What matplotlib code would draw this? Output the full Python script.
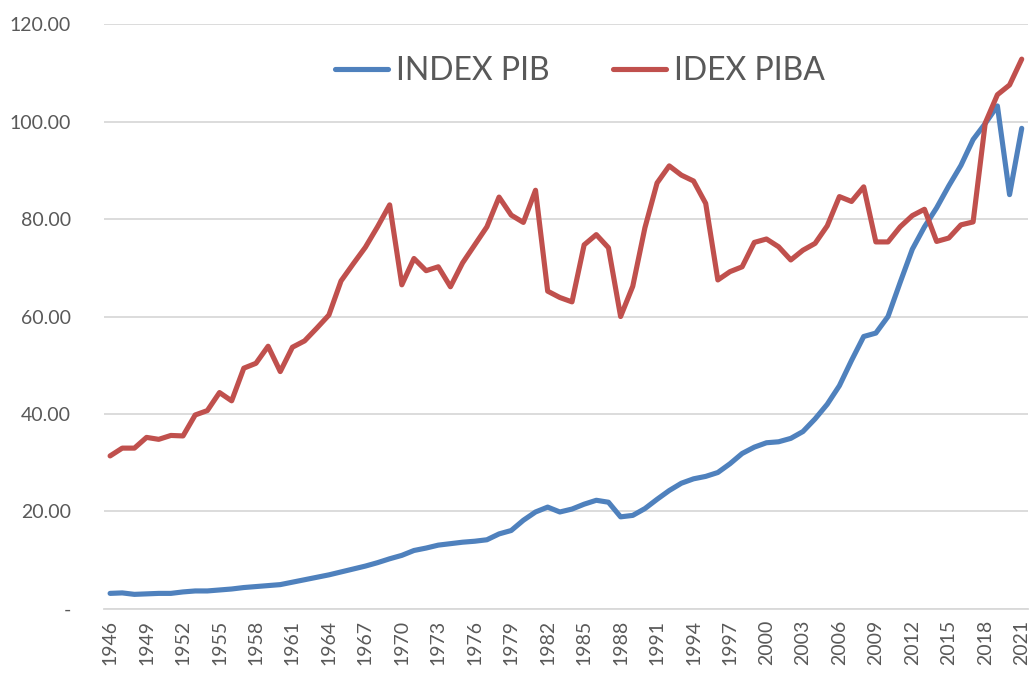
import matplotlib
matplotlib.use("Agg")
import matplotlib.pyplot as plt
from matplotlib.ticker import FuncFormatter

# years 1946..2021
years = list(range(1946, 2022))

index_pib = [
    3.2, 3.3, 3.0, 3.1, 3.2, 3.2, 3.5, 3.7, 3.7, 3.9,  # 1946-1955
    4.1, 4.4, 4.6, 4.8, 5.0, 5.5, 6.0, 6.5, 7.0, 7.6,  # 1956-1965
    8.2, 8.8, 9.5, 10.3, 11.0, 12.0, 12.5, 13.1, 13.4, 13.7,  # 1966-1975
    13.9, 14.2, 15.4, 16.1, 18.2, 19.9, 20.9, 19.9, 20.5, 21.5,  # 1976-1985
    22.3, 21.9, 18.9, 19.2, 20.6, 22.5, 24.3, 25.8, 26.7, 27.2,  # 1986-1995
    28.0, 29.8, 31.9, 33.2, 34.1, 34.3, 35.0, 36.4, 39.0, 42.0,  # 1996-2005
    45.8, 51.0, 55.9, 56.6, 60.0, 67.0, 73.8, 78.4, 82.3, 86.8,  # 2006-2015
    91.0, 96.3, 99.6, 103.2, 85.0, 98.6,  # 2016-2021
]

idex_piba = [
    31.4, 33.0, 33.0, 35.2, 34.8, 35.6, 35.5, 39.8, 40.7, 44.4,  # 1946-1955
    42.7, 49.4, 50.4, 53.9, 48.7, 53.7, 55.0, 57.6, 60.3, 67.3,  # 1956-1965
    70.8, 74.2, 78.4, 82.9, 66.5, 71.9, 69.4, 70.2, 66.1, 71.0,  # 1966-1975
    74.7, 78.4, 84.5, 80.8, 79.3, 85.9, 65.2, 63.9, 63.0, 74.7,  # 1976-1985
    76.8, 74.1, 60.0, 66.2, 78.2, 87.4, 90.9, 89.0, 87.8, 83.2,  # 1986-1995
    67.5, 69.2, 70.2, 75.2, 75.9, 74.3, 71.6, 73.6, 75.0, 78.6,  # 1996-2005
    84.6, 83.6, 86.6, 75.3, 75.3, 78.4, 80.7, 82.0, 75.4, 76.1,  # 2006-2015
    78.8, 79.4, 99.7, 105.5, 107.5, 112.8,  # 2016-2021
]

plt.rcParams["font.family"] = ["Lato", "DejaVu Sans"]

fig = plt.figure(figsize=(10.34, 6.75), dpi=100)
ax = fig.add_axes([0.1006, 0.0978, 0.8934, 0.8666])

x = list(range(len(years)))
ax.plot(x, index_pib, color="#4F81BD", lw=3.7, solid_capstyle="round",
        solid_joinstyle="round", label="INDEX PIB")
ax.plot(x, idex_piba, color="#C0504D", lw=3.7, solid_capstyle="round",
        solid_joinstyle="round", label="IDEX PIBA")

ax.set_xlim(-0.5, len(years) - 0.5)
ax.set_ylim(0, 120)
ax.set_yticks(range(0, 121, 20))
ax.yaxis.set_major_formatter(FuncFormatter(lambda v, p: "-" if v == 0 else f"{v:.2f}"))
ax.set_xticks(x[::3])
ax.set_xticklabels([str(y) for y in years[::3]], rotation=90)

ax.grid(axis="y", color="#D9D9D9", lw=1.3)
ax.set_axisbelow(True)
for s in ["top", "right", "left"]:
    ax.spines[s].set_visible(False)
ax.spines["bottom"].set_color("#D9D9D9")
ax.spines["bottom"].set_linewidth(1.3)
ax.tick_params(axis="both", length=0, labelsize=14, colors="#595959", pad=8)
ax.tick_params(axis="y", pad=24)

leg = ax.legend(loc="upper center", bbox_to_anchor=(0.515, 0.995), ncol=2,
                frameon=False, fontsize=23, handlelength=1.65, columnspacing=2.0,
                handletextpad=0.25)
for t in leg.get_texts():
    t.set_color("#595959")

fig.savefig("out.png", dpi=100)
